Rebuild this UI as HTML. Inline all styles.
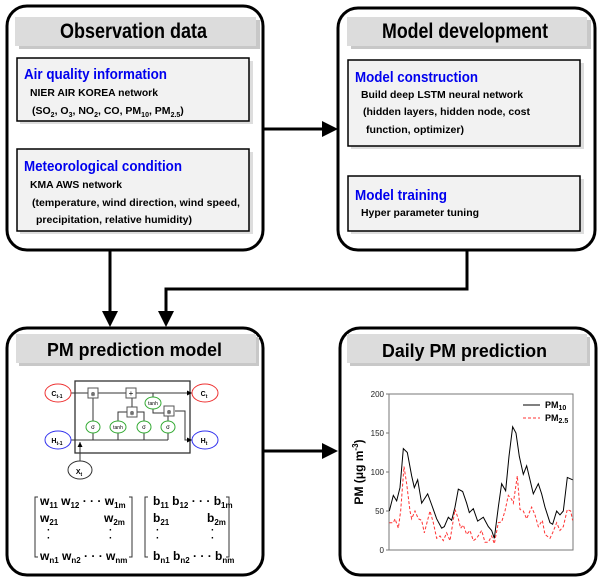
<!DOCTYPE html>
<html><head><meta charset="utf-8"><style>
html,body{margin:0;padding:0;background:#fff}
svg{display:block;font-family:"Liberation Sans",Arial,sans-serif}
</style></head><body>
<svg width="600" height="579" viewBox="0 0 600 579" xmlns="http://www.w3.org/2000/svg">
<defs>
<marker id="as" markerWidth="5" markerHeight="5" refX="5" refY="2.5" orient="auto" markerUnits="userSpaceOnUse"><path d="M0,0 L5,2.5 L0,5 z" fill="#000"/></marker>
</defs>

<!-- connectors -->
<line x1="263" y1="129" x2="322" y2="129" stroke="#000" stroke-width="3"/>
<polygon points="322,121 338,129 322,137" fill="#000"/>
<line x1="110" y1="250" x2="110" y2="312" stroke="#000" stroke-width="3"/>
<polygon points="102,311 118,311 110,327" fill="#000"/>
<path d="M467,250 V289 H166 V312" fill="none" stroke="#000" stroke-width="3"/>
<polygon points="158,311 174,311 166,327" fill="#000"/>
<line x1="263" y1="451" x2="322" y2="451" stroke="#000" stroke-width="3"/>
<polygon points="322,443 338,451 322,459" fill="#000"/>

<!-- outer boxes -->
<rect x="7" y="6" width="256" height="244" rx="20" fill="#fff" stroke="#000" stroke-width="3"/>
<rect x="338" y="8" width="257" height="242" rx="20" fill="#fff" stroke="#000" stroke-width="3"/>
<rect x="7" y="328" width="256" height="247" rx="20" fill="#fff" stroke="#000" stroke-width="3"/>
<rect x="340" y="328" width="256" height="247" rx="20" fill="#fff" stroke="#000" stroke-width="3"/>

<!-- title bands -->
<rect x="19" y="20" width="241" height="29" fill="#c8c8c8"/>
<rect x="15" y="17" width="241" height="29" fill="#dcdcdc"/>
<text x="60" y="38" font-size="21" font-weight="bold" textLength="147" lengthAdjust="spacingAndGlyphs">Observation data</text>
<rect x="351" y="20" width="240" height="29" fill="#c8c8c8"/>
<rect x="347" y="17" width="240" height="29" fill="#dcdcdc"/>
<text x="382" y="38" font-size="21" font-weight="bold" textLength="166" lengthAdjust="spacingAndGlyphs">Model development</text>
<rect x="19" y="337" width="240" height="29" fill="#c8c8c8"/>
<rect x="16" y="334" width="240" height="29" fill="#dcdcdc"/>
<text x="47" y="356" font-size="18" font-weight="bold" textLength="175" lengthAdjust="spacingAndGlyphs">PM prediction model</text>
<rect x="350" y="337" width="240" height="29" fill="#c8c8c8"/>
<rect x="347" y="334" width="240" height="29" fill="#dcdcdc"/>
<text x="382" y="357" font-size="18" font-weight="bold" textLength="165" lengthAdjust="spacingAndGlyphs">Daily PM prediction</text>

<!-- inner boxes -->
<g font-size="10.5" font-weight="bold">
<rect x="20" y="61" width="233" height="63" fill="#ddd"/>
<rect x="17" y="58" width="232" height="63" fill="#f2f2f2" stroke="#000" stroke-width="1.5"/>
<text x="24" y="79" font-size="15" fill="#0000ee" textLength="143" lengthAdjust="spacingAndGlyphs">Air quality information</text>
<text x="30" y="96" textLength="128" lengthAdjust="spacingAndGlyphs">NIER AIR KOREA network</text>
<text x="32" y="114">(SO<tspan font-size="7" dy="3">2</tspan><tspan dy="-3">, O</tspan><tspan font-size="7" dy="3">3</tspan><tspan dy="-3">, NO</tspan><tspan font-size="7" dy="3">2</tspan><tspan dy="-3">, CO, PM</tspan><tspan font-size="7" dy="3">10</tspan><tspan dy="-3">, PM</tspan><tspan font-size="7" dy="3">2.5</tspan><tspan dy="-3">)</tspan></text>

<rect x="20" y="152" width="233" height="82" fill="#ddd"/>
<rect x="17" y="149" width="232" height="82" fill="#f2f2f2" stroke="#000" stroke-width="1.5"/>
<text x="24" y="171" font-size="15" fill="#0000ee" textLength="158" lengthAdjust="spacingAndGlyphs">Meteorological condition</text>
<text x="30" y="188" textLength="92" lengthAdjust="spacingAndGlyphs">KMA AWS network</text>
<text x="32" y="206" textLength="208" lengthAdjust="spacingAndGlyphs">(temperature, wind direction, wind speed,</text>
<text x="36" y="223" textLength="156" lengthAdjust="spacingAndGlyphs">precipitation, relative humidity)</text>

<rect x="351" y="63" width="233" height="86" fill="#ddd"/>
<rect x="348" y="60" width="232" height="86" fill="#f2f2f2" stroke="#000" stroke-width="1.5"/>
<text x="355" y="82" font-size="15" fill="#0000ee" textLength="123" lengthAdjust="spacingAndGlyphs">Model construction</text>
<text x="361" y="98" textLength="162" lengthAdjust="spacingAndGlyphs">Build deep LSTM neural network</text>
<text x="363" y="115" textLength="167" lengthAdjust="spacingAndGlyphs">(hidden layers, hidden node, cost</text>
<text x="366" y="133" textLength="98" lengthAdjust="spacingAndGlyphs">function, optimizer)</text>

<rect x="351" y="179" width="233" height="55" fill="#ddd"/>
<rect x="348" y="176" width="232" height="55" fill="#f2f2f2" stroke="#000" stroke-width="1.5"/>
<text x="355" y="200" font-size="15" fill="#0000ee" textLength="92" lengthAdjust="spacingAndGlyphs">Model training</text>
<text x="361" y="216" textLength="118" lengthAdjust="spacingAndGlyphs">Hyper parameter tuning</text>
</g>

<!-- LSTM -->
<g stroke="#333" stroke-width="1" fill="none">
<rect x="75" y="381" width="115" height="72" stroke-width="1.3"/>
<line x1="70" y1="393" x2="192" y2="393" marker-end="url(#as)"/>
<line x1="70" y1="440" x2="168" y2="440"/>
<polyline points="153,403 153,413 164,413"/>
<line x1="153" y1="393" x2="153" y2="403"/>
<polyline points="175,411 185,411 185,440 192,440" marker-end="url(#as)"/>
<line x1="93" y1="393" x2="93" y2="440"/>
<line x1="132" y1="393" x2="132" y2="412"/>
<polyline points="118,440 118,412 144,412 144,440"/>
<line x1="168" y1="411" x2="168" y2="440"/>
<line x1="80" y1="463" x2="80" y2="442" marker-end="url(#as)"/>
</g>
<g fill="#fff" stroke="#555" stroke-width="1">
<rect x="88" y="388" width="10" height="10"/><rect x="126" y="388" width="10" height="10"/>
<rect x="127" y="407" width="10" height="10"/><rect x="164" y="406" width="10" height="10"/>
</g>
<g fill="#fff" stroke="#3a3" stroke-width="1">
<ellipse cx="93" cy="427" rx="7" ry="6"/><ellipse cx="118" cy="427" rx="8" ry="6"/>
<ellipse cx="144" cy="427" rx="7" ry="6"/><ellipse cx="168" cy="427" rx="7" ry="6"/>
<ellipse cx="153" cy="403" rx="8" ry="6"/>
</g>
<g font-size="6" text-anchor="middle" fill="#000">
<text x="93" y="396">⊗</text><text x="131" y="396" font-size="8">+</text><text x="132" y="415">⊗</text><text x="169" y="414">⊗</text>
<text x="93" y="429">σ</text><text x="118" y="429" font-size="5">tanh</text><text x="144" y="429">σ</text><text x="168" y="429">σ</text><text x="153" y="405" font-size="5">tanh</text>
</g>
<g fill="#fff" stroke-width="1">
<ellipse cx="58" cy="393" rx="13" ry="9" stroke="#e33"/>
<ellipse cx="205" cy="393" rx="13" ry="9" stroke="#e33"/>
<ellipse cx="58" cy="440" rx="13" ry="9" stroke="#33e"/>
<ellipse cx="205" cy="440" rx="13" ry="9" stroke="#33e"/>
<ellipse cx="80" cy="470" rx="12" ry="9" stroke="#333"/>
</g>
<g font-size="7" font-weight="bold" text-anchor="middle">
<text x="57" y="396">C<tspan font-size="5" dy="2">t-1</tspan></text>
<text x="204" y="396">C<tspan font-size="5" dy="2">t</tspan></text>
<text x="57" y="443">H<tspan font-size="5" dy="2">t-1</tspan></text>
<text x="204" y="443">H<tspan font-size="5" dy="2">t</tspan></text>
<text x="79" y="474">X<tspan font-size="5" dy="2">t</tspan></text>
</g>

<!-- matrices -->
<g stroke="#333" stroke-width="1" fill="none">
<polyline points="38,497 35,497 35,557 38,557"/><polyline points="129,497 132,497 132,557 129,557"/>
<polyline points="148,497 145,497 145,557 148,557"/><polyline points="226,497 229,497 229,557 226,557"/>
</g>
<g font-size="12" font-weight="bold">
<text x="40" y="505">w<tspan font-size="8" dy="3">11</tspan><tspan dy="-3"> w</tspan><tspan font-size="8" dy="3">12</tspan><tspan dy="-3"> · · · w</tspan><tspan font-size="8" dy="3">1m</tspan></text>
<text x="40" y="522">w<tspan font-size="8" dy="3">21</tspan></text>
<text x="104" y="522">w<tspan font-size="8" dy="3">2m</tspan></text>
<text x="40" y="560">w<tspan font-size="8" dy="3">n1</tspan><tspan dy="-3"> w</tspan><tspan font-size="8" dy="3">n2</tspan><tspan dy="-3"> · · · w</tspan><tspan font-size="8" dy="3">nm</tspan></text>
<text x="153" y="505">b<tspan font-size="8" dy="3">11</tspan><tspan dy="-3"> b</tspan><tspan font-size="8" dy="3">12</tspan><tspan dy="-3"> · · · b</tspan><tspan font-size="8" dy="3">1m</tspan></text>
<text x="153" y="522">b<tspan font-size="8" dy="3">21</tspan></text>
<text x="207" y="522">b<tspan font-size="8" dy="3">2m</tspan></text>
<text x="153" y="560">b<tspan font-size="8" dy="3">n1</tspan><tspan dy="-3"> b</tspan><tspan font-size="8" dy="3">n2</tspan><tspan dy="-3"> · · · b</tspan><tspan font-size="8" dy="3">nm</tspan></text>
<text x="47" y="533" font-size="10">·</text><text x="47" y="541" font-size="10">·</text>
<text x="109" y="533" font-size="10">·</text><text x="109" y="541" font-size="10">·</text>
<text x="156" y="533" font-size="10">·</text><text x="156" y="541" font-size="10">·</text>
<text x="211" y="533" font-size="10">·</text><text x="211" y="541" font-size="10">·</text>
</g>

<!-- chart -->
<rect x="389" y="394" width="184" height="156" fill="none" stroke="#777" stroke-width="1"/>
<g stroke="#777" stroke-width="1">
<line x1="386" y1="394" x2="389" y2="394"/><line x1="386" y1="433" x2="389" y2="433"/>
<line x1="386" y1="472" x2="389" y2="472"/><line x1="386" y1="511" x2="389" y2="511"/><line x1="386" y1="550" x2="389" y2="550"/>
</g>
<g font-size="8" text-anchor="end" fill="#222">
<text x="384" y="397">200</text><text x="384" y="436">150</text><text x="384" y="475">100</text><text x="384" y="514">50</text><text x="384" y="553">0</text>
</g>
<text transform="translate(363 472) rotate(-90)" font-size="12" font-weight="bold" text-anchor="middle">PM (μg m<tspan font-size="8" dy="-5">-3</tspan><tspan dy="5">)</tspan></text>
<g transform="translate(330 550) scale(0.3333 -0.78)" fill="none">
<polyline vector-effect="non-scaling-stroke" stroke="#000" stroke-width="1" points="178,50 190,70 200,63 210,80 220,130 232,125 245,95 253,80 263,90 275,60 293,72 305,58 320,40 335,28 343,30 355,42 365,38 375,55 385,78 398,75 410,60 418,48 430,53 443,37 460,42 475,30 485,25 493,15 505,55 515,85 527,76 537,120 548,158 558,150 568,120 580,97 590,108 600,90 610,72 625,85 635,72 645,55 660,35 668,33 680,50 690,45 700,50 712,93 728,90"/>
<polyline vector-effect="non-scaling-stroke" stroke="#f33" stroke-width="1" stroke-dasharray="3,2" points="178,35 190,35 195,40 205,28 212,50 222,107 230,85 240,50 245,40 255,50 265,40 275,38 283,22 300,50 310,35 320,15 330,18 340,12 350,22 360,12 375,52 385,40 392,28 400,32 410,20 420,25 430,12 440,15 455,25 465,10 475,10 485,18 493,8 505,35 515,36 525,50 535,70 545,65 550,60 562,95 570,52 580,50 590,40 605,55 615,45 625,30 637,38 645,20 660,15 668,22 680,35 690,25 700,30 712,52 722,50 728,38"/>
</g>
<line x1="523" y1="405" x2="540" y2="405" stroke="#000" stroke-width="1"/>
<line x1="523" y1="418" x2="540" y2="418" stroke="#f33" stroke-width="1" stroke-dasharray="3,2"/>
<g font-size="9" font-weight="bold">
<text x="545" y="408">PM<tspan font-size="7" dy="2">10</tspan></text>
<text x="545" y="421">PM<tspan font-size="7" dy="2">2.5</tspan></text>
</g>
</svg>
</body></html>
